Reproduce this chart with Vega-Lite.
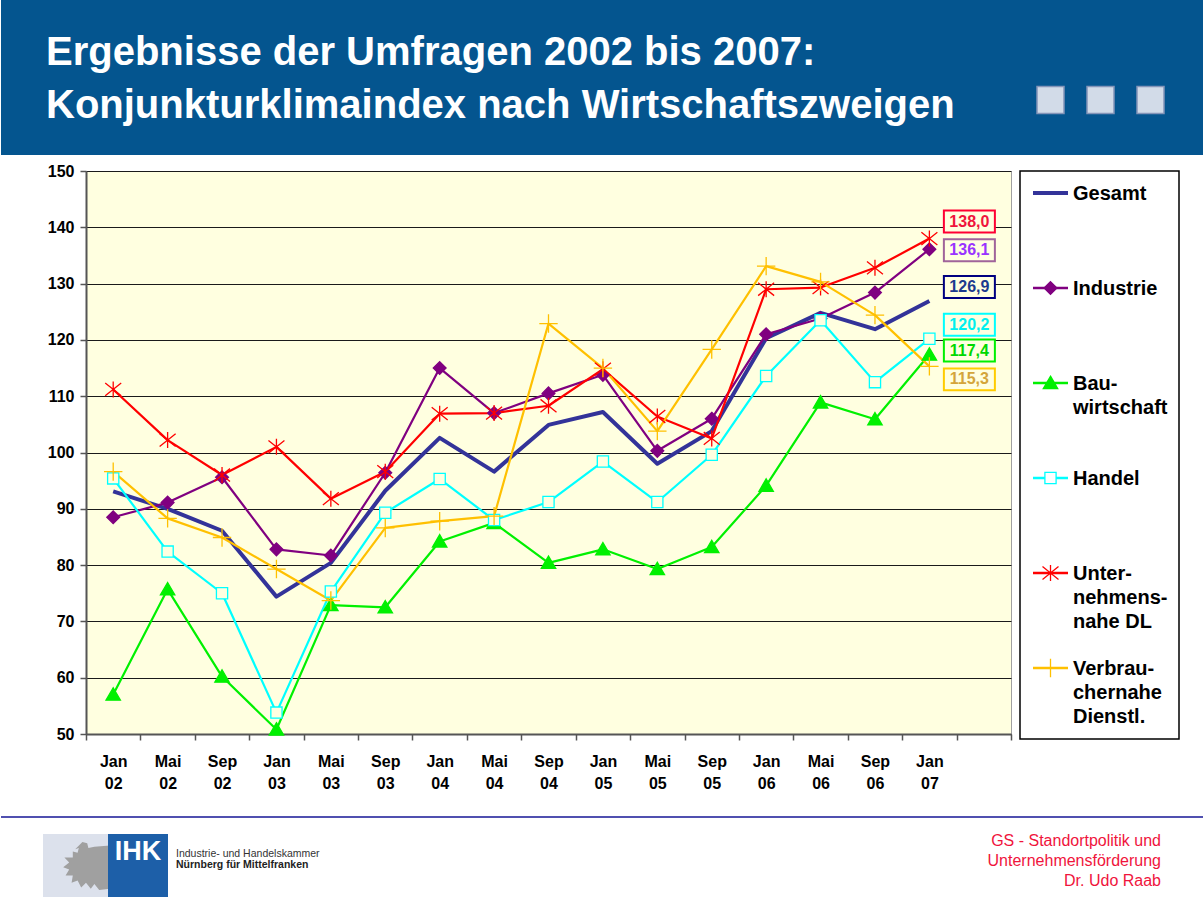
{
  "$schema": "https://vega.github.io/schema/vega-lite/v6.json",
  "padding": 0,
  "background": "#FFFFFF",
  "columns": 1,
  "align": "none",
  "spacing": 7,
  "config": {
    "font": "Liberation Sans",
    "locale": {"number": {"decimal": ",", "thousands": ".", "grouping": [3], "currency": ["", " €"]}}
  },
  "datasets": {
    "werte": [
      {"reihe": "Gesamt", "monat": "Jan 02", "wert": 93.1},
      {"reihe": "Gesamt", "monat": "Mai 02", "wert": 90.0},
      {"reihe": "Gesamt", "monat": "Sep 02", "wert": 86.1},
      {"reihe": "Gesamt", "monat": "Jan 03", "wert": 74.4},
      {"reihe": "Gesamt", "monat": "Mai 03", "wert": 80.4},
      {"reihe": "Gesamt", "monat": "Sep 03", "wert": 93.2},
      {"reihe": "Gesamt", "monat": "Jan 04", "wert": 102.6},
      {"reihe": "Gesamt", "monat": "Mai 04", "wert": 96.6},
      {"reihe": "Gesamt", "monat": "Sep 04", "wert": 104.9},
      {"reihe": "Gesamt", "monat": "Jan 05", "wert": 107.2},
      {"reihe": "Gesamt", "monat": "Mai 05", "wert": 98.0},
      {"reihe": "Gesamt", "monat": "Sep 05", "wert": 103.8},
      {"reihe": "Gesamt", "monat": "Jan 06", "wert": 120.3},
      {"reihe": "Gesamt", "monat": "Mai 06", "wert": 124.8},
      {"reihe": "Gesamt", "monat": "Sep 06", "wert": 121.9},
      {"reihe": "Gesamt", "monat": "Jan 07", "wert": 126.9},
      {"reihe": "Industrie", "monat": "Jan 02", "wert": 88.5},
      {"reihe": "Industrie", "monat": "Mai 02", "wert": 91.1},
      {"reihe": "Industrie", "monat": "Sep 02", "wert": 95.6},
      {"reihe": "Industrie", "monat": "Jan 03", "wert": 82.8},
      {"reihe": "Industrie", "monat": "Mai 03", "wert": 81.7},
      {"reihe": "Industrie", "monat": "Sep 03", "wert": 96.4},
      {"reihe": "Industrie", "monat": "Jan 04", "wert": 115.0},
      {"reihe": "Industrie", "monat": "Mai 04", "wert": 107.0},
      {"reihe": "Industrie", "monat": "Sep 04", "wert": 110.5},
      {"reihe": "Industrie", "monat": "Jan 05", "wert": 113.8},
      {"reihe": "Industrie", "monat": "Mai 05", "wert": 100.3},
      {"reihe": "Industrie", "monat": "Sep 05", "wert": 106.0},
      {"reihe": "Industrie", "monat": "Jan 06", "wert": 121.0},
      {"reihe": "Industrie", "monat": "Mai 06", "wert": 123.8},
      {"reihe": "Industrie", "monat": "Sep 06", "wert": 128.4},
      {"reihe": "Industrie", "monat": "Jan 07", "wert": 136.1},
      {"reihe": "Bauwirtschaft", "monat": "Jan 02", "wert": 57.0},
      {"reihe": "Bauwirtschaft", "monat": "Mai 02", "wert": 75.7},
      {"reihe": "Bauwirtschaft", "monat": "Sep 02", "wert": 60.2},
      {"reihe": "Bauwirtschaft", "monat": "Jan 03", "wert": 50.8},
      {"reihe": "Bauwirtschaft", "monat": "Mai 03", "wert": 72.9},
      {"reihe": "Bauwirtschaft", "monat": "Sep 03", "wert": 72.5},
      {"reihe": "Bauwirtschaft", "monat": "Jan 04", "wert": 84.2},
      {"reihe": "Bauwirtschaft", "monat": "Mai 04", "wert": 87.5},
      {"reihe": "Bauwirtschaft", "monat": "Sep 04", "wert": 80.4},
      {"reihe": "Bauwirtschaft", "monat": "Jan 05", "wert": 82.8},
      {"reihe": "Bauwirtschaft", "monat": "Mai 05", "wert": 79.3},
      {"reihe": "Bauwirtschaft", "monat": "Sep 05", "wert": 83.2},
      {"reihe": "Bauwirtschaft", "monat": "Jan 06", "wert": 94.1},
      {"reihe": "Bauwirtschaft", "monat": "Mai 06", "wert": 108.9},
      {"reihe": "Bauwirtschaft", "monat": "Sep 06", "wert": 105.9},
      {"reihe": "Bauwirtschaft", "monat": "Jan 07", "wert": 117.4},
      {"reihe": "Handel", "monat": "Jan 02", "wert": 95.4},
      {"reihe": "Handel", "monat": "Mai 02", "wert": 82.4},
      {"reihe": "Handel", "monat": "Sep 02", "wert": 75.0},
      {"reihe": "Handel", "monat": "Jan 03", "wert": 53.8},
      {"reihe": "Handel", "monat": "Mai 03", "wert": 75.3},
      {"reihe": "Handel", "monat": "Sep 03", "wert": 89.3},
      {"reihe": "Handel", "monat": "Jan 04", "wert": 95.3},
      {"reihe": "Handel", "monat": "Mai 04", "wert": 88.0},
      {"reihe": "Handel", "monat": "Sep 04", "wert": 91.2},
      {"reihe": "Handel", "monat": "Jan 05", "wert": 98.4},
      {"reihe": "Handel", "monat": "Mai 05", "wert": 91.2},
      {"reihe": "Handel", "monat": "Sep 05", "wert": 99.6},
      {"reihe": "Handel", "monat": "Jan 06", "wert": 113.6},
      {"reihe": "Handel", "monat": "Mai 06", "wert": 123.5},
      {"reihe": "Handel", "monat": "Sep 06", "wert": 112.5},
      {"reihe": "Handel", "monat": "Jan 07", "wert": 120.2},
      {"reihe": "Unternehmensnahe DL", "monat": "Jan 02", "wert": 111.2},
      {"reihe": "Unternehmensnahe DL", "monat": "Mai 02", "wert": 102.2},
      {"reihe": "Unternehmensnahe DL", "monat": "Sep 02", "wert": 96.0},
      {"reihe": "Unternehmensnahe DL", "monat": "Jan 03", "wert": 101.0},
      {"reihe": "Unternehmensnahe DL", "monat": "Mai 03", "wert": 91.8},
      {"reihe": "Unternehmensnahe DL", "monat": "Sep 03", "wert": 96.6},
      {"reihe": "Unternehmensnahe DL", "monat": "Jan 04", "wert": 106.9},
      {"reihe": "Unternehmensnahe DL", "monat": "Mai 04", "wert": 107.0},
      {"reihe": "Unternehmensnahe DL", "monat": "Sep 04", "wert": 108.3},
      {"reihe": "Unternehmensnahe DL", "monat": "Jan 05", "wert": 114.8},
      {"reihe": "Unternehmensnahe DL", "monat": "Mai 05", "wert": 106.4},
      {"reihe": "Unternehmensnahe DL", "monat": "Sep 05", "wert": 102.5},
      {"reihe": "Unternehmensnahe DL", "monat": "Jan 06", "wert": 129.0},
      {"reihe": "Unternehmensnahe DL", "monat": "Mai 06", "wert": 129.3},
      {"reihe": "Unternehmensnahe DL", "monat": "Sep 06", "wert": 132.8},
      {"reihe": "Unternehmensnahe DL", "monat": "Jan 07", "wert": 138.0},
      {"reihe": "Verbrauchernahe Dienstl.", "monat": "Jan 02", "wert": 96.6},
      {"reihe": "Verbrauchernahe Dienstl.", "monat": "Mai 02", "wert": 88.3},
      {"reihe": "Verbrauchernahe Dienstl.", "monat": "Sep 02", "wert": 84.9},
      {"reihe": "Verbrauchernahe Dienstl.", "monat": "Jan 03", "wert": 79.3},
      {"reihe": "Verbrauchernahe Dienstl.", "monat": "Mai 03", "wert": 73.7},
      {"reihe": "Verbrauchernahe Dienstl.", "monat": "Sep 03", "wert": 86.6},
      {"reihe": "Verbrauchernahe Dienstl.", "monat": "Jan 04", "wert": 87.8},
      {"reihe": "Verbrauchernahe Dienstl.", "monat": "Mai 04", "wert": 88.7},
      {"reihe": "Verbrauchernahe Dienstl.", "monat": "Sep 04", "wert": 122.9},
      {"reihe": "Verbrauchernahe Dienstl.", "monat": "Jan 05", "wert": 115.0},
      {"reihe": "Verbrauchernahe Dienstl.", "monat": "Mai 05", "wert": 103.8},
      {"reihe": "Verbrauchernahe Dienstl.", "monat": "Sep 05", "wert": 118.3},
      {"reihe": "Verbrauchernahe Dienstl.", "monat": "Jan 06", "wert": 133.1},
      {"reihe": "Verbrauchernahe Dienstl.", "monat": "Mai 06", "wert": 130.3},
      {"reihe": "Verbrauchernahe Dienstl.", "monat": "Sep 06", "wert": 124.4},
      {"reihe": "Verbrauchernahe Dienstl.", "monat": "Jan 07", "wert": 115.3}
    ],
    "legende": [
      {"reihe": "Gesamt", "beschriftung": "Gesamt"},
      {"reihe": "Industrie", "beschriftung": "Industrie"},
      {"reihe": "Bauwirtschaft", "beschriftung": "Bau-\nwirtschaft"},
      {"reihe": "Handel", "beschriftung": "Handel"},
      {"reihe": "Unternehmensnahe DL", "beschriftung": "Unter-\nnehmens-\nnahe DL"},
      {"reihe": "Verbrauchernahe Dienstl.", "beschriftung": "Verbrau-\nchernahe\nDienstl."}
    ]
  },
  "concat": [
    {
      "width": 1118,
      "height": 155,
      "view": {"stroke": null},
      "data": {"values": [{"n": 1}, {"n": 2}, {"n": 3}]},
      "layer": [
        {
          "transform": [{"filter": "datum.n === 1"}],
          "mark": {"type": "rect", "color": "#04558F"},
          "encoding": {"x": {"value": -85}, "x2": {"value": 1118}, "y": {"value": 0}, "y2": {"value": 155}}
        },
        {
          "transform": [{"filter": "datum.n === 1"}],
          "mark": {"type": "text", "text": ["Ergebnisse der Umfragen 2002 bis 2007:", "Konjunkturklimaindex nach Wirtschaftszweigen"], "x": -40, "y": 65, "align": "left", "baseline": "alphabetic", "fontSize": 40, "fontWeight": "bold", "color": "#FFFFFF", "lineHeight": 53},
          "encoding": {}
        },
        {
          "mark": {"type": "point", "shape": "square", "size": 729, "filled": true, "fill": "#D2DBE8", "stroke": "#8494B8", "strokeWidth": 1.5, "opacity": 1},
          "encoding": {
            "x": {"field": "n", "type": "quantitative", "scale": {"domain": [1, 3], "range": [964.5, 1064.5]}, "axis": null},
            "y": {"value": 100}
          }
        }
      ]
    },
    {
      "spacing": 6,
      "resolve": {"scale": {"fill": "independent"}},
      "hconcat": [
        {
          "width": 925,
          "height": 563,
          "view": {"fill": "#FFFFE0", "stroke": "#A0A0A0"},
          "data": {"name": "werte"},
          "encoding": {
            "x": {
              "field": "monat", "type": "ordinal", "bandPosition": 0.5,
              "scale": {"type": "band", "domain": ["Jan 02", "Mai 02", "Sep 02", "Jan 03", "Mai 03", "Sep 03", "Jan 04", "Mai 04", "Sep 04", "Jan 05", "Mai 05", "Sep 05", "Jan 06", "Mai 06", "Sep 06", "Jan 07", " "], "paddingInner": 0, "paddingOuter": 0},
              "axis": {"title": null, "labelExpr": "split(datum.label, ' ')", "labelAngle": 0, "tickBand": "extent", "grid": false, "domainColor": "#555555", "domainWidth": 2, "tickColor": "#555555", "tickWidth": 1.5, "tickSize": 6, "labelFont": "Liberation Sans", "labelFontSize": 16, "labelFontWeight": "bold", "labelColor": "#000000", "labelPadding": 13, "labelLineHeight": 22, "labelBaseline": "top"}
            },
            "y": {
              "field": "wert", "type": "quantitative",
              "scale": {"domain": [50, 150], "nice": false, "zero": false},
              "axis": {"title": null, "values": [50, 60, 70, 80, 90, 100, 110, 120, 130, 140, 150], "grid": true, "gridColor": "#1A1A1A", "gridWidth": 1, "domainColor": "#555555", "domainWidth": 2, "tickColor": "#555555", "tickWidth": 1.5, "tickSize": 6, "labelFont": "Liberation Sans", "labelFontSize": 16, "labelFontWeight": "bold", "labelColor": "#000000", "labelPadding": 6, "minExtent": 85, "maxExtent": 85}
            }
          },
          "layer": [
            {
              "mark": {"type": "line", "strokeJoin": "round"},
              "encoding": {
                "color": {"field": "reihe", "type": "nominal", "scale": {"domain": ["Gesamt", "Industrie", "Bauwirtschaft", "Handel", "Unternehmensnahe DL", "Verbrauchernahe Dienstl."], "range": ["#333399", "#800080", "#00F000", "#00FFFF", "#FF0000", "#FFC000"]}, "legend": null},
                "strokeWidth": {"condition": {"test": "datum.reihe === 'Gesamt'", "value": 4}, "value": 2.2}
              }
            },
            {
              "transform": [{"filter": "datum.reihe !== 'Gesamt'"}],
              "mark": {"type": "point", "size": 256, "opacity": 1, "strokeWidth": 1.3},
              "encoding": {
                "shape": {"field": "reihe", "type": "nominal", "scale": {"domain": ["Industrie", "Bauwirtschaft", "Handel", "Unternehmensnahe DL", "Verbrauchernahe Dienstl."], "range": ["M0,-0.8L0.8,0L0,0.8L-0.8,0Z", "M0,-0.85L0.9,0.7L-0.9,0.7Z", "M-0.7,-0.7L0.7,-0.7L0.7,0.7L-0.7,0.7Z", "M0,-1L0,1M-1,-0.8L1,0.8M-1,0.8L1,-0.8", "M-1.15,0L1.15,0M0,-1.15L0,1.15"]}, "legend": null},
                "stroke": {"field": "reihe", "type": "nominal", "scale": {"domain": ["Industrie", "Bauwirtschaft", "Handel", "Unternehmensnahe DL", "Verbrauchernahe Dienstl."], "range": ["#800080", "#00F000", "#00FFFF", "#FF0000", "#FFC000"]}, "legend": null},
                "fill": {"field": "reihe", "type": "nominal", "scale": {"domain": ["Industrie", "Bauwirtschaft", "Handel", "Unternehmensnahe DL", "Verbrauchernahe Dienstl."], "range": ["#800080", "#00F000", "#FFFFE0", "transparent", "transparent"]}, "legend": null}
              }
            },
            {
              "transform": [{"filter": "datum.monat === 'Jan 07' && datum.reihe === 'Unternehmensnahe DL'"}],
              "layer": [
                {"mark": {"type": "point", "shape": "M-1,-0.43L1,-0.43L1,0.43L-1,0.43Z", "size": 2601, "filled": true, "fill": "#FFFFE0", "stroke": "#FF0033", "strokeWidth": 2, "opacity": 1, "xOffset": 40, "yOffset": -17}},
                {"mark": {"type": "text", "fontSize": 16, "fontWeight": "bold", "color": "#F0143C", "align": "center", "baseline": "middle", "xOffset": 40, "yOffset": -17}, "encoding": {"text": {"field": "wert", "type": "quantitative", "format": ".1f"}}}
              ]
            },
            {
              "transform": [{"filter": "datum.monat === 'Jan 07' && datum.reihe === 'Industrie'"}],
              "layer": [
                {"mark": {"type": "point", "shape": "M-1,-0.43L1,-0.43L1,0.43L-1,0.43Z", "size": 2601, "filled": true, "fill": "#FFFFE0", "stroke": "#A0649A", "strokeWidth": 2, "opacity": 1, "xOffset": 40, "yOffset": 1}},
                {"mark": {"type": "text", "fontSize": 16, "fontWeight": "bold", "color": "#9933FF", "align": "center", "baseline": "middle", "xOffset": 40, "yOffset": 1}, "encoding": {"text": {"field": "wert", "type": "quantitative", "format": ".1f"}}}
              ]
            },
            {
              "transform": [{"filter": "datum.monat === 'Jan 07' && datum.reihe === 'Gesamt'"}],
              "layer": [
                {"mark": {"type": "point", "shape": "M-1,-0.43L1,-0.43L1,0.43L-1,0.43Z", "size": 2601, "filled": true, "fill": "#FFFFE0", "stroke": "#000080", "strokeWidth": 2, "opacity": 1, "xOffset": 40, "yOffset": -14}},
                {"mark": {"type": "text", "fontSize": 16, "fontWeight": "bold", "color": "#1C3A8E", "align": "center", "baseline": "middle", "xOffset": 40, "yOffset": -14}, "encoding": {"text": {"field": "wert", "type": "quantitative", "format": ".1f"}}}
              ]
            },
            {
              "transform": [{"filter": "datum.monat === 'Jan 07' && datum.reihe === 'Handel'"}],
              "layer": [
                {"mark": {"type": "point", "shape": "M-1,-0.43L1,-0.43L1,0.43L-1,0.43Z", "size": 2601, "filled": true, "fill": "#FFFFE0", "stroke": "#00FFFF", "strokeWidth": 2, "opacity": 1, "xOffset": 40, "yOffset": -14}},
                {"mark": {"type": "text", "fontSize": 16, "fontWeight": "bold", "color": "#00F0F0", "align": "center", "baseline": "middle", "xOffset": 40, "yOffset": -14}, "encoding": {"text": {"field": "wert", "type": "quantitative", "format": ".1f"}}}
              ]
            },
            {
              "transform": [{"filter": "datum.monat === 'Jan 07' && datum.reihe === 'Bauwirtschaft'"}],
              "layer": [
                {"mark": {"type": "point", "shape": "M-1,-0.43L1,-0.43L1,0.43L-1,0.43Z", "size": 2601, "filled": true, "fill": "#FFFFE0", "stroke": "#00F000", "strokeWidth": 2, "opacity": 1, "xOffset": 40, "yOffset": -4}},
                {"mark": {"type": "text", "fontSize": 16, "fontWeight": "bold", "color": "#00D800", "align": "center", "baseline": "middle", "xOffset": 40, "yOffset": -4}, "encoding": {"text": {"field": "wert", "type": "quantitative", "format": ".1f"}}}
              ]
            },
            {
              "transform": [{"filter": "datum.monat === 'Jan 07' && datum.reihe === 'Verbrauchernahe Dienstl.'"}],
              "layer": [
                {"mark": {"type": "point", "shape": "M-1,-0.43L1,-0.43L1,0.43L-1,0.43Z", "size": 2601, "filled": true, "fill": "#FFFFE0", "stroke": "#FFCC00", "strokeWidth": 2, "opacity": 1, "xOffset": 40, "yOffset": 13}},
                {"mark": {"type": "text", "fontSize": 16, "fontWeight": "bold", "color": "#D4A53A", "align": "center", "baseline": "middle", "xOffset": 40, "yOffset": 13}, "encoding": {"text": {"field": "wert", "type": "quantitative", "format": ".1f"}}}
              ]
            }
          ]
        },
        {
          "width": 159,
          "height": 568,
          "view": {"fill": "#FFFFFF", "stroke": "#000000", "strokeWidth": 1.5},
          "data": {"name": "legende"},
          "encoding": {
            "y": {"field": "reihe", "type": "nominal", "scale": {"type": "point", "domain": ["Gesamt", "Industrie", "Bauwirtschaft", "Handel", "Unternehmensnahe DL", "Verbrauchernahe Dienstl."], "range": [22, 497], "padding": 0}, "axis": null}
          },
          "layer": [
            {
              "mark": {"type": "rule"},
              "encoding": {
                "x": {"value": 13},
                "x2": {"value": 48},
                "color": {"field": "reihe", "type": "nominal", "scale": {"domain": ["Gesamt", "Industrie", "Bauwirtschaft", "Handel", "Unternehmensnahe DL", "Verbrauchernahe Dienstl."], "range": ["#333399", "#800080", "#00F000", "#00FFFF", "#FF0000", "#FFC000"]}, "legend": null},
                "strokeWidth": {"condition": {"test": "datum.reihe === 'Gesamt'", "value": 4}, "value": 2.5}
              }
            },
            {
              "transform": [{"filter": "datum.reihe !== 'Gesamt'"}],
              "mark": {"type": "point", "size": 256, "opacity": 1, "strokeWidth": 1.3},
              "encoding": {
                "x": {"value": 30.5},
                "shape": {"field": "reihe", "type": "nominal", "scale": {"domain": ["Industrie", "Bauwirtschaft", "Handel", "Unternehmensnahe DL", "Verbrauchernahe Dienstl."], "range": ["M0,-0.8L0.8,0L0,0.8L-0.8,0Z", "M0,-0.85L0.9,0.7L-0.9,0.7Z", "M-0.7,-0.7L0.7,-0.7L0.7,0.7L-0.7,0.7Z", "M0,-1L0,1M-1,-0.8L1,0.8M-1,0.8L1,-0.8", "M-1.15,0L1.15,0M0,-1.15L0,1.15"]}, "legend": null},
                "stroke": {"field": "reihe", "type": "nominal", "scale": {"domain": ["Industrie", "Bauwirtschaft", "Handel", "Unternehmensnahe DL", "Verbrauchernahe Dienstl."], "range": ["#800080", "#00F000", "#00FFFF", "#FF0000", "#FFC000"]}, "legend": null},
                "fill": {"field": "reihe", "type": "nominal", "scale": {"domain": ["Industrie", "Bauwirtschaft", "Handel", "Unternehmensnahe DL", "Verbrauchernahe Dienstl."], "range": ["#800080", "#00F000", "#FFFFFF", "transparent", "transparent"]}, "legend": null}
              }
            },
            {
              "mark": {"type": "text", "align": "left", "baseline": "top", "dy": -9, "fontSize": 20, "fontWeight": "bold", "color": "#000000", "lineHeight": 24, "lineBreak": "\n"},
              "encoding": {
                "x": {"value": 53},
                "text": {"field": "beschriftung", "type": "nominal"}
              }
            }
          ]
        }
      ]
    },
    {
      "width": 1118,
      "height": 108,
      "view": {"stroke": null},
      "data": {"values": [{}]},
      "layer": [
        {"mark": {"type": "rule", "color": "#5050B0", "strokeWidth": 2}, "encoding": {"x": {"value": -85}, "x2": {"value": 1118}, "y": {"value": 18}, "y2": {"value": 18}}},
        {"mark": {"type": "rect", "color": "#DCE1EC"}, "encoding": {"x": {"value": -43}, "x2": {"value": 22}, "y": {"value": 35}, "y2": {"value": 98}}},
        {"mark": {"type": "point", "shape": "M-0.15,-1L0.05,-0.95L0.1,-0.75L0.35,-0.8L1,-0.85L1,0.95L0.55,1L0.35,0.75L0.2,0.95L0,0.7L-0.2,0.9L-0.35,0.6L-0.6,0.7L-0.55,0.4L-0.85,0.4L-0.7,0.15L-0.95,0.05L-0.7,-0.15L-0.9,-0.35L-0.55,-0.35L-0.55,-0.6L-0.35,-0.55L-0.3,-0.75L-0.45,-0.7Z", "size": 2304, "filled": true, "color": "#A0A0A0", "opacity": 1}, "encoding": {"x": {"value": 0}, "y": {"value": 67}}},
        {"mark": {"type": "rect", "color": "#1D5FA8"}, "encoding": {"x": {"value": 22}, "x2": {"value": 82}, "y": {"value": 35}, "y2": {"value": 98}}},
        {"mark": {"type": "text", "text": "IHK", "fontSize": 27, "fontWeight": "bold", "color": "#FFFFFF", "align": "center", "baseline": "alphabetic"}, "encoding": {"x": {"value": 52}, "y": {"value": 61}}},
        {"mark": {"type": "text", "text": "Industrie- und Handelskammer", "fontSize": 10.5, "color": "#333333", "align": "left", "baseline": "alphabetic"}, "encoding": {"x": {"value": 90}, "y": {"value": 58}}},
        {"mark": {"type": "text", "text": "Nürnberg für Mittelfranken", "fontSize": 10.5, "fontWeight": "bold", "color": "#222222", "align": "left", "baseline": "alphabetic"}, "encoding": {"x": {"value": 90}, "y": {"value": 69}}},
        {"mark": {"type": "text", "text": ["GS - Standortpolitik und", "Unternehmensförderung", "Dr. Udo Raab"], "fontSize": 16, "color": "#F0143C", "align": "right", "baseline": "alphabetic", "lineHeight": 20}, "encoding": {"x": {"value": 1075}, "y": {"value": 47}}}
      ]
    }
  ]
}
